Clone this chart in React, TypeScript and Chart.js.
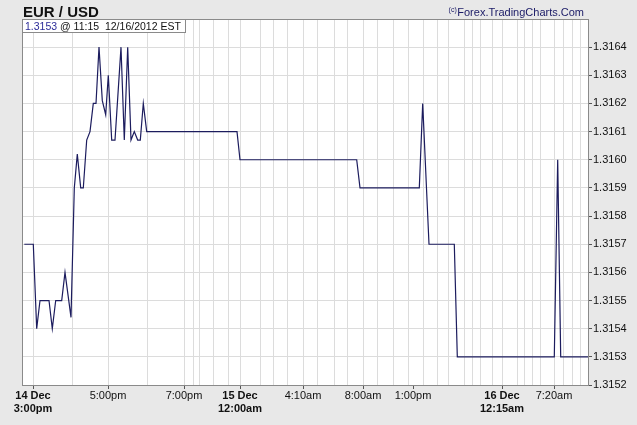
import React, { useEffect, useRef } from "react";
import { Chart, registerables } from "chart.js";

Chart.register(...registerables);

// Timeline position of each quote (the chart is a compressed tick timeline)
const timelineSlots = [
  2.3, 11.3, 14.7, 18, 27, 30.3, 33.7, 39.7, 43, 49, 52.3, 55.3, 58.7, 61.3,
  64.7, 68, 71.3, 74, 77, 80.3, 83.7, 86.3, 89.7, 93, 99, 102.3, 105.7, 109,
  112.3, 115.7, 118.3, 121.3, 124.7, 215, 218, 334.7, 338, 397.3, 400.7, 407,
  432.3, 435.3, 532.3, 535.7, 538.7, 566,
];
const priceValues = [
  1.3157, 1.3157, 1.3154, 1.3155, 1.3155, 1.3154, 1.3155, 1.3155, 1.3156,
  1.31544, 1.3159, 1.31602, 1.3159, 1.3159, 1.31607, 1.3161, 1.3162, 1.3162,
  1.3164, 1.31621, 1.31616, 1.3163, 1.31607, 1.31607, 1.3164, 1.31607, 1.3164,
  1.31607, 1.3161, 1.31607, 1.31607, 1.3162, 1.3161, 1.3161, 1.316, 1.316,
  1.3159, 1.3159, 1.3162, 1.3157, 1.3157, 1.3153, 1.3153, 1.316, 1.3153,
  1.3153,
];

// Vertical grid lines (hour marks on the compressed timeline)
const gridSlots = [
  11, 50, 86, 125, 162, 171, 177, 191, 206, 218, 238, 251, 265, 281, 295, 312,
  325, 341, 355, 371, 386, 401, 415, 426, 442, 450, 458, 470, 480, 495, 502,
  510, 518, 532, 541, 550, 558,
];
const xLabelSlots = [11, 86, 162, 218, 281, 341, 391, 480, 532];
const xLabels: (string | string[])[] = [
  ["14 Dec", "3:00pm"],
  "5:00pm",
  "7:00pm",
  ["15 Dec", "12:00am"],
  "4:10am",
  "8:00am",
  "1:00pm",
  ["16 Dec", "12:15am"],
  "7:20am",
];
const yTickLabels = [
  "1.3152", "1.3153", "1.3154", "1.3155", "1.3156", "1.3157", "1.3158",
  "1.3159", "1.3160", "1.3161", "1.3162", "1.3163", "1.3164",
];

const FONT = "'Liberation Sans', Arial, Helvetica, sans-serif";

const labelAt = (v: number) => {
  const i = xLabelSlots.findIndex((s) => Math.abs(s - v) < 0.01);
  return i;
};

const framePlugin = {
  id: "frame",
  beforeDraw(chart: any) {
    const { ctx, chartArea: a, width, height } = chart;
    ctx.save();
    ctx.fillStyle = "#e8e8e8";
    ctx.fillRect(0, 0, width, height);
    ctx.fillStyle = "#ffffff";
    ctx.fillRect(a.left, a.top, a.right - a.left, a.bottom - a.top);
    ctx.restore();
  },
  afterDraw(chart: any) {
    const { ctx, chartArea: a } = chart;
    ctx.save();
    ctx.strokeStyle = "#8a8a8a";
    ctx.lineWidth = 1;
    ctx.strokeRect(a.left + 0.5, a.top + 0.5, a.right - a.left, a.bottom - a.top);

    // title
    ctx.fillStyle = "#111";
    ctx.font = `bold 15px ${FONT}`;
    ctx.textBaseline = "alphabetic";
    ctx.textAlign = "left";
    ctx.fillText("EUR / USD", a.left + 1, 17);

    // copyright
    ctx.textAlign = "right";
    ctx.fillStyle = "#1a1a66";
    ctx.font = `11px ${FONT}`;
    const main = "Forex.TradingCharts.Com";
    const mw = ctx.measureText(main).width;
    ctx.fillText(main, 584, 16);
    ctx.font = `7px ${FONT}`;
    ctx.fillText("(c)", 584 - mw - 0.5, 12);

    // info box
    const bx = a.left, by = a.top, bw = 163, bh = 13;
    ctx.fillStyle = "#ffffff";
    ctx.fillRect(bx, by, bw, bh);
    ctx.strokeStyle = "#8a8a8a";
    ctx.strokeRect(bx + 0.5, by + 0.5, bw, bh);
    ctx.textAlign = "left";
    ctx.font = `10.5px ${FONT}`;
    ctx.fillStyle = "#2b2b99";
    const p = "1.3153";
    ctx.fillText(p, bx + 3, by + 11);
    const pw = ctx.measureText(p).width;
    ctx.fillStyle = "#111";
    ctx.fillText(" @ 11:15  12/16/2012 EST", bx + 3 + pw, by + 11);
    ctx.restore();
  },
};

export default function App() {
  const ref = useRef<HTMLCanvasElement | null>(null);
  useEffect(() => {
    document.body.style.margin = "0";
    const allSlots = Array.from(new Set([...gridSlots, ...xLabelSlots])).sort(
      (a, b) => a - b
    );
    const chart = new Chart(ref.current as HTMLCanvasElement, {
      type: "line",
      data: {
        datasets: [
          {
            data: timelineSlots.map((x, i) => ({ x, y: priceValues[i] })),
            borderColor: "#1c1c5e",
            borderWidth: 1.2,
            pointRadius: 0,
            tension: 0,
            fill: false,
          },
        ],
      },
      options: {
        responsive: false,
        animation: false,
        layout: { padding: { left: 22, top: 19, right: 0, bottom: 0 } },
        plugins: { legend: { display: false }, tooltip: { enabled: false } },
        scales: {
          x: {
            type: "linear",
            min: 0,
            max: 566,
            afterFit: (s: any) => {
              s.height = 40;
            },
            afterBuildTicks: (s: any) => {
              s.ticks = allSlots.map((v) => ({ value: v }));
            },
            grid: {
              color: (c: any) =>
                gridSlots.includes(c.tick?.value) ? "#dcdcdc" : "rgba(0,0,0,0)",
              lineWidth: 1,
              drawTicks: true,
              tickLength: 4,
              tickColor: (c: any) =>
                labelAt(c.tick?.value) >= 0 ? "#555" : "rgba(0,0,0,0)",
            },
            border: { display: false },
            ticks: {
              autoSkip: false,
              maxRotation: 0,
              padding: 0,
              color: "#111",
              font: (c: any) => {
                const i = labelAt(c.tick?.value);
                const bold = i >= 0 && Array.isArray(xLabels[i]);
                return { family: FONT, size: 11, weight: bold ? "bold" : "normal", lineHeight: 1.2 };
              },
              callback: (v: any) => {
                const i = labelAt(Number(v));
                return i >= 0 ? xLabels[i] : "";
              },
            },
          },
          y: {
            type: "linear",
            position: "right",
            min: 1.3152,
            max: 1.3165,
            afterFit: (s: any) => {
              s.width = 49;
            },
            afterBuildTicks: (s: any) => {
              s.ticks = yTickLabels.map((t) => ({ value: parseFloat(t) }));
            },
            grid: {
              color: "#dcdcdc",
              lineWidth: 1,
              drawTicks: true,
              tickLength: 4,
              tickColor: "#555",
            },
            border: { display: false },
            ticks: {
              padding: 1,
              color: "#111",
              font: { family: FONT, size: 11 },
              callback: (v: any) => {
                const i = yTickLabels.findIndex(
                  (t) => Math.abs(parseFloat(t) - Number(v)) < 1e-7
                );
                return i >= 0 ? yTickLabels[i] : "";
              },
            },
          },
        },
      },
      plugins: [framePlugin],
    });
    return () => chart.destroy();
  }, []);
  return (
    <div style={{ width: 637, height: 425 }}>
      <canvas ref={ref} width={637} height={425} />
    </div>
  );
}
